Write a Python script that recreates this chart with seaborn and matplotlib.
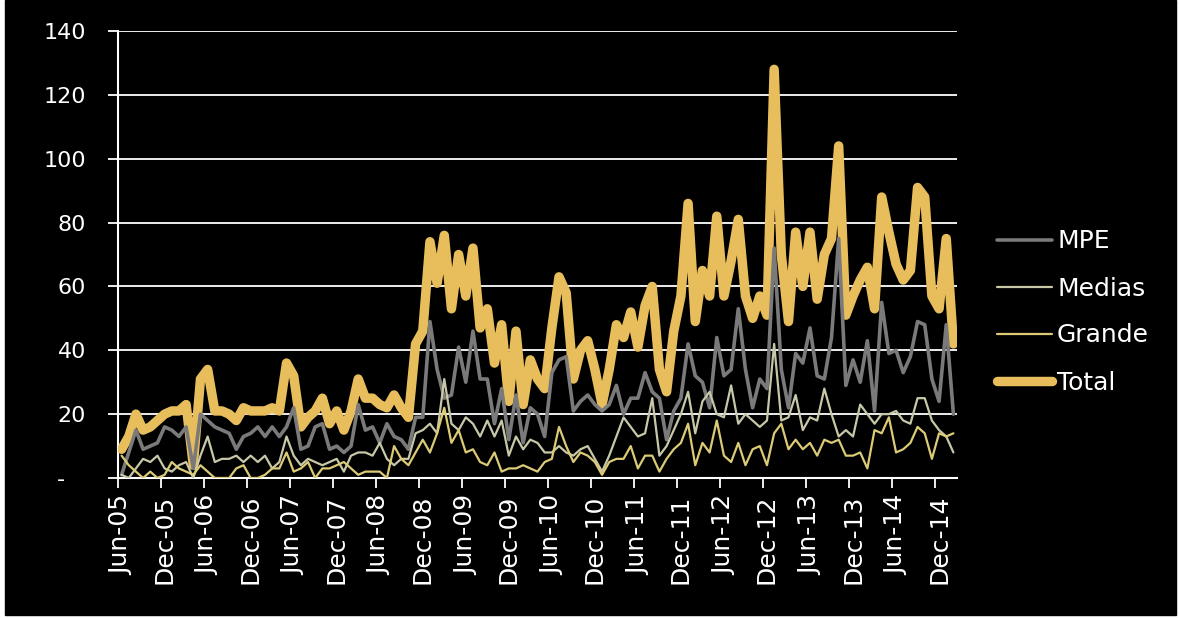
import numpy as np
import pandas as pd
import seaborn as sns
import matplotlib.pyplot as plt
from matplotlib.lines import Line2D
from matplotlib.patches import Rectangle

# monthly series, Jun-05 .. Feb-15
months = pd.date_range("2005-06-01", periods=117, freq="MS")

mpe = [1, 8, 15, 9, 10, 11, 16, 15, 13, 16,
       3, 20, 18, 16, 15, 14, 9, 13, 14, 16,
       13, 16, 13, 16, 22, 9, 10, 16, 17, 9,
       10, 8, 10, 23, 15, 16, 11, 17, 13, 12,
       9, 19, 19, 49, 34, 25, 26, 41, 30, 46,
       31, 31, 17, 28, 12, 26, 11, 22, 20, 13,
       33, 37, 38, 21, 24, 26, 23, 21, 23, 29,
       20, 25, 25, 33, 27, 25, 12, 21, 25, 42,
       32, 30, 22, 44, 32, 34, 53, 34, 22, 31,
       28, 72, 34, 22, 39, 36, 47, 32, 31, 44,
       75, 29, 37, 30, 43, 21, 55, 39, 40, 33,
       38, 49, 48, 31, 24, 48, 20]

medias = [1, 0, 3, 6, 5, 7, 3, 2, 4, 5,
          0, 7, 13, 5, 6, 6, 7, 5, 7, 5,
          7, 3, 5, 13, 7, 4, 6, 5, 4, 5,
          6, 2, 7, 8, 8, 7, 11, 6, 4, 6,
          6, 14, 15, 17, 14, 31, 17, 15, 19, 17,
          13, 18, 13, 18, 7, 13, 9, 12, 11, 8,
          8, 10, 8, 7, 9, 10, 6, 2, 7, 13,
          19, 16, 13, 14, 25, 7, 10, 15, 20, 27,
          14, 24, 27, 20, 19, 29, 17, 20, 18, 16,
          18, 42, 18, 19, 26, 15, 19, 18, 28, 20,
          13, 15, 13, 23, 20, 17, 20, 20, 21, 18,
          17, 25, 25, 18, 15, 13, 8]

grande = [7, 4, 2, 0, 2, 0, 1, 5, 3, 2,
          1, 4, 2, 0, 0, 0, 3, 4, 0, 0,
          1, 3, 3, 8, 2, 3, 5, 0, 3, 3,
          4, 5, 3, 1, 2, 2, 2, 0, 10, 6,
          4, 8, 12, 8, 14, 22, 11, 15, 8, 9,
          5, 4, 8, 2, 3, 3, 4, 3, 2, 5,
          6, 16, 10, 5, 8, 7, 5, 1, 5, 6,
          6, 10, 3, 7, 7, 2, 6, 9, 11, 17,
          4, 11, 8, 18, 7, 5, 11, 4, 9, 10,
          4, 14, 17, 9, 12, 9, 11, 7, 12, 11,
          12, 7, 7, 8, 3, 15, 14, 19, 8, 9,
          11, 16, 14, 6, 14, 13, 14]

total = [9, 13, 20, 15, 16, 18, 20, 21, 21, 23,
         4, 31, 34, 21, 21, 20, 18, 22, 21, 21,
         21, 22, 21, 36, 32, 16, 19, 21, 25, 17,
         21, 15, 21, 31, 25, 25, 23, 22, 26, 22,
         19, 42, 46, 74, 61, 76, 53, 70, 57, 72,
         47, 53, 36, 48, 24, 46, 23, 37, 31, 28,
         47, 63, 58, 31, 40, 43, 34, 23, 34, 48,
         44, 52, 41, 54, 60, 34, 27, 46, 57, 86,
         49, 65, 57, 82, 57, 68, 81, 57, 50, 57,
         51, 128, 70, 49, 77, 60, 77, 56, 70, 75,
         104, 51, 57, 62, 66, 53, 88, 77, 67, 62,
         65, 91, 88, 57, 53, 75, 42]

series = ["MPE", "Medias", "Grande", "Total"]
colors = {"MPE": "#7a7a7a", "Medias": "#c8c8a9", "Grande": "#dccb76", "Total": "#e8be5c"}
widths = {"MPE": 2.6, "Medias": 1.6, "Grande": 1.6, "Total": 6.8}
zorders = {"MPE": 4, "Medias": 5, "Grande": 6, "Total": 3}

df = pd.DataFrame({"Mes": months, "MPE": mpe, "Medias": medias,
                   "Grande": grande, "Total": total})
df["pos"] = np.arange(len(df)) + 0.5
long = df.melt(id_vars=["Mes", "pos"], value_vars=series,
               var_name="Serie", value_name="Valor")

sns.set_theme(style="ticks", rc={"axes.facecolor": "black",
                                 "figure.facecolor": "black"})
plt.rcParams["font.family"] = ["DejaVu Sans"]

W, H = 1179, 618
fig = plt.figure(figsize=(W / 100, H / 100), dpi=100, facecolor="white")
fig.patches.append(Rectangle((5 / W, 3 / H), (W - 8) / W, 1 - 3 / H,
                             transform=fig.transFigure, color="black", zorder=-10))
ax = fig.add_axes([118 / W, 1 - 478 / H, (957 - 118) / W, (478 - 31) / H])
ax.set_zorder(2)
ax.set_facecolor("black")

for s in series:
    sub = long[long["Serie"] == s]
    sns.lineplot(data=sub, x="pos", y="Valor", color=colors[s], linewidth=widths[s],
                 ax=ax, zorder=zorders[s], solid_capstyle="round",
                 solid_joinstyle="round", legend=False)

ax.set_xlim(0, len(df))
ax.set_ylim(0, 140)
ax.set_xlabel("")
ax.set_ylabel("")

yt = list(range(0, 141, 20))
ax.set_yticks(yt)
ax.set_yticklabels(["-   "] + [str(v) for v in yt[1:]])

xt = np.arange(0, len(df), 6)
ax.set_xticks(xt)
ax.set_xticklabels([])
ax.set_xticks(xt + 0.5, minor=True)
ax.set_xticklabels(months[::6].strftime("%b-%y"), minor=True)

ax.tick_params(axis="x", which="major", length=7, width=1.3, color="white", direction="out")
ax.tick_params(axis="x", which="minor", length=0, pad=12, labelsize=18,
               labelcolor="white", labelrotation=90)
ax.tick_params(axis="y", length=7, width=1.3, color="white", labelcolor="white",
               pad=16, labelsize=16)

ax.yaxis.grid(True, color="white", linewidth=1.3)
ax.xaxis.grid(False)
ax.set_axisbelow(True)
for sp in ["top", "right"]:
    ax.spines[sp].set_visible(False)
for sp in ["left", "bottom"]:
    ax.spines[sp].set_color("white")
    ax.spines[sp].set_linewidth(1.5)

handles = [Line2D([], [], color=colors[s], linewidth=widths[s], solid_capstyle="round")
           for s in series]
fig.legend(handles, series, loc="center left", bbox_to_anchor=(997 / W, 1 - 312 / H),
           frameon=False, fontsize=18, labelcolor="white", handlelength=2.2,
           handletextpad=0.2, labelspacing=0.92, borderpad=0, borderaxespad=0)

fig.savefig("out.png", dpi=100, facecolor=fig.get_facecolor())
